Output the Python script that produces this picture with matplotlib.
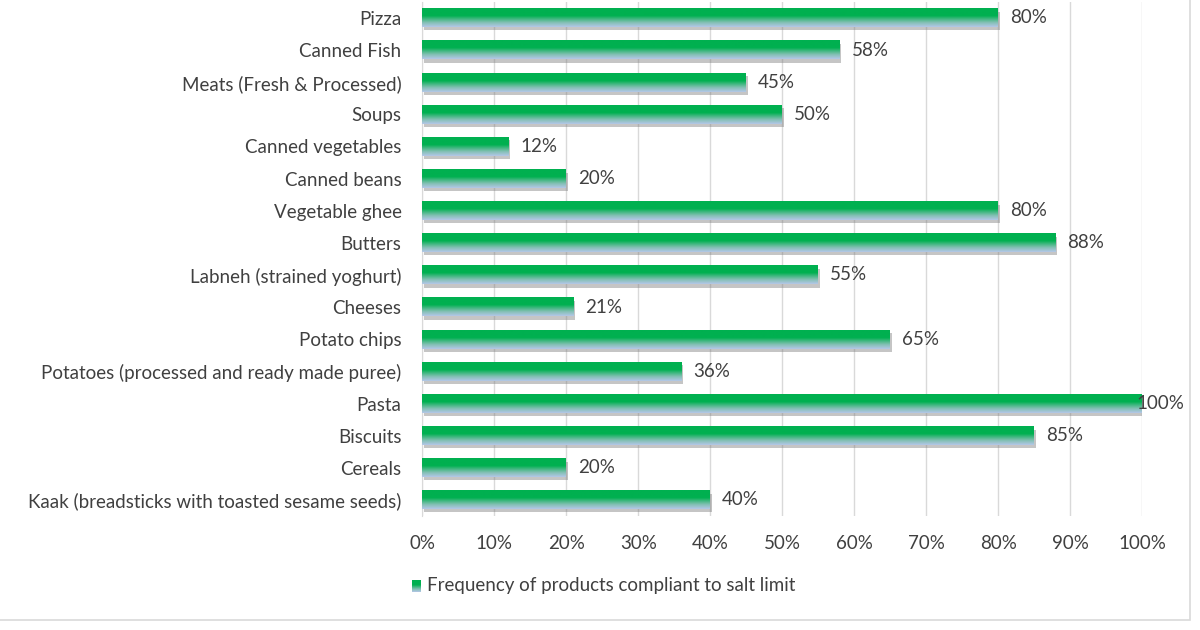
import matplotlib.pyplot as plt
import matplotlib.colors as mcolors
import numpy as np

plt.rcParams['font.family'] = ['Lato', 'DejaVu Sans']

categories = ["Pizza", "Canned Fish", "Meats (Fresh & Processed)", "Soups",
              "Canned vegetables", "Canned beans", "Vegetable ghee", "Butters",
              "Labneh (strained yoghurt)", "Cheeses", "Potato chips",
              "Potatoes (processed and ready made puree)", "Pasta", "Biscuits",
              "Cereals", "Kaak (breadsticks with toasted sesame seeds)"]
values = [80, 58, 45, 50, 12, 20, 80, 88, 55, 21, 65, 36, 100, 85, 20, 40]
series_name = "Frequency of products compliant to salt limit"

text_color = "#404040"
fs = 13.5
grad = mcolors.LinearSegmentedColormap.from_list(
    "g", [(0, "#00b050"), (0.4, "#00b050"), (0.75, "#7fbfb0"), (1, "#b4c7e7")])

fig = plt.figure(figsize=(12, 6.3), dpi=100)
ax = fig.add_axes([0.352, 0.181, 0.6, 0.816])

n = len(categories)
ypos = np.arange(n)[::-1]
h = 0.58
img = np.linspace(0, 1, 64).reshape(-1, 1)

for y, v in zip(ypos, values):
    # soft shadow
    ax.add_patch(plt.Rectangle((0.2, y - h / 2 - 0.1), v, h, color="#7f7f7f",
                               alpha=0.45, lw=0, zorder=2))
    ax.imshow(img, cmap=grad, aspect="auto", extent=[0, v, y - h / 2, y + h / 2],
              origin="upper", zorder=3)
    tx = min(v + 1.6, 99.2)
    ax.text(tx, y, f"{v}%", va="center", ha="left", fontsize=fs,
            color=text_color, zorder=4, clip_on=False)

ax.set_xlim(0, 100)
ax.set_ylim(-0.5, n - 0.5)
ax.set_xticks(np.arange(0, 101, 10))
ax.set_xticklabels([f"{t}%" for t in range(0, 101, 10)])
ax.set_yticks(ypos)
ax.set_yticklabels(categories)
ax.tick_params(axis="both", length=0, labelsize=fs, colors=text_color)
ax.tick_params(axis="y", pad=15)
ax.tick_params(axis="x", pad=14)
ax.grid(axis="x", color="#d9d9d9", lw=1, zorder=0)
ax.set_axisbelow(True)
for s in ["top", "right", "bottom"]:
    ax.spines[s].set_visible(False)
ax.spines["left"].set_color("#d9d9d9")

# legend
lx, ly = 0.343, 0.07
lax = fig.add_axes([lx, ly - 0.009, 0.0075, 0.018])
lax.imshow(img, cmap=grad, aspect="auto")
lax.axis("off")
fig.text(lx + 0.013, ly, series_name, va="center", ha="left", fontsize=fs,
         color=text_color)

# chart frame
fig.add_artist(plt.Rectangle((-0.01, 1 - 620 / 630), 1190 / 1200 + 0.01, 1.1,
                             transform=fig.transFigure, fill=False,
                             ec="#d9d9d9", lw=1.2))

fig.savefig("out.png", dpi=100)
